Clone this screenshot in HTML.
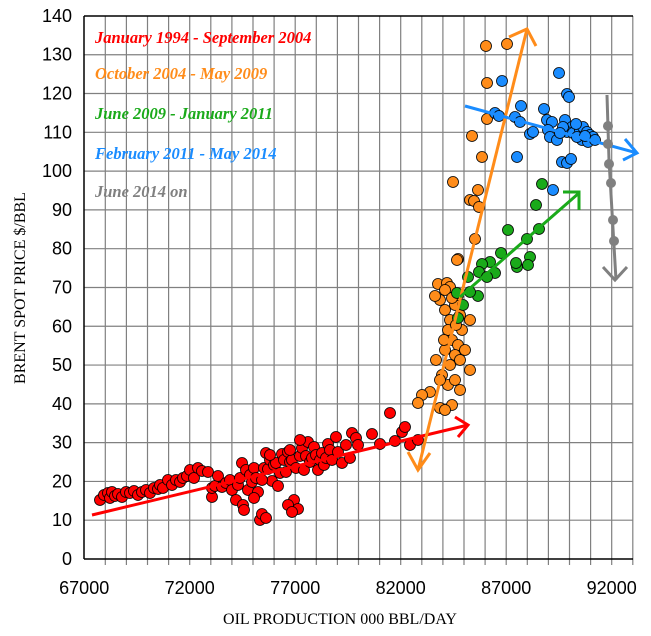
<!DOCTYPE html>
<html><head><meta charset="utf-8"><style>
body{margin:0;background:#fff;width:651px;height:636px;overflow:hidden}
svg{display:block}
.yl{font-family:"Liberation Sans",sans-serif;font-size:18px;fill:#000;text-anchor:end}
.xl{font-family:"Liberation Sans",sans-serif;font-size:18px;fill:#000;text-anchor:middle}
.lg{font-family:"Liberation Serif",serif;font-size:16.5px;font-style:italic;font-weight:bold}
</style></head><body>
<svg id="s" width="651" height="636" xmlns="http://www.w3.org/2000/svg">
<g id="grid" stroke="#808080" stroke-width="1.2"></g>
<line x1="84" y1="16" x2="633" y2="16" stroke="#000" stroke-width="1.5"/>
<line x1="84" y1="559" x2="633" y2="559" stroke="#000" stroke-width="1.5"/>
<line x1="84" y1="16" x2="84" y2="559" stroke="#000" stroke-width="1.5"/>
<g id="ylab"></g><g id="xlab"></g>
<text x="340" y="624" font-family="'Liberation Serif',serif" font-size="16" text-anchor="middle">OIL PRODUCTION 000 BBL/DAY</text>
<text transform="translate(25,288) rotate(-90)" font-family="'Liberation Serif',serif" font-size="16" text-anchor="middle">BRENT SPOT PRICE $/BBL</text>
<g id="pts" stroke="#000" stroke-width="0.8"></g>
<g fill="none" stroke-width="3">
<polyline points="92,515 468,425" stroke="#ff0000"/>
<polyline points="455,417 468,425 458,437" stroke="#ff0000"/>
<polyline points="418,470 527,29" stroke="#ff8c1a"/>
<polyline points="509,37 527,29 536,46" stroke="#ff8c1a"/>
<polyline points="408,452 418,470 430,453" stroke="#ff8c1a"/>
<polyline points="460,297 579,193" stroke="#1aaa1a"/>
<polyline points="563,192 579,192 579,210" stroke="#1aaa1a"/>
<polyline points="465,106 637,153" stroke="#1a8cff"/>
<polyline points="625,139 637,153 623,160" stroke="#1a8cff"/>
<polyline points="607,95 609,160 616,280" stroke="#808080"/>
<polyline points="603,267 615,280 627,267" stroke="#808080"/>
</g>
<g id="gpts"></g>
<text class="lg" x="95" y="43" fill="#ff0000">January 1994 - September 2004</text>
<text class="lg" x="95" y="79" fill="#ff8c1a">October 2004 - May 2009</text>
<text class="lg" x="95" y="119" fill="#1aaa1a">June 2009 - January 2011</text>
<text class="lg" x="95" y="159" fill="#1a8cff">February 2011 - May 2014</text>
<text class="lg" x="95" y="197" fill="#808080">June 2014 on</text>
</svg>
<script>
const NS="http://www.w3.org/2000/svg";
function el(p,t,a,txt){const e=document.createElementNS(NS,t);for(const k in a)e.setAttribute(k,a[k]);if(txt!==undefined)e.textContent=txt;document.getElementById(p).appendChild(e);}
for(let i=1;i<=26;i++){const x=84.2+i*21.1;el("grid","line",{x1:x,y1:16,x2:x,y2:565});}
for(let v=10;v<=130;v+=10){const y=559-v*3.879;el("grid","line",{x1:84,y1:y,x2:633,y2:y});}
for(let v=0;v<=140;v+=10){el("ylab","text",{class:"yl",x:72,y:559-v*3.879+6},String(v));}
["67000","72000","77000","82000","87000","92000"].forEach((t,i)=>el("xlab","text",{class:"xl",x:84.2+i*105.5,y:594},t));
const R=[[100,500],[104,495],[108,493],[110,498],[112,492],[115,496],[118,494],[122,497],[126,492],[130,493],[134,491],[138,495],[142,492],[146,490],[150,493],[154,488],[158,489],[160,485],[163,488],[168,480],[172,485],[176,480],[180,482],[183,478],[187,476],[190,470],[194,478],[198,468],[202,471],[208,472],[212,497],[212,488],[215,486],[218,476],[222,487],[226,483],[230,480],[232,490],[236,500],[238,485],[240,478],[242,463],[243,505],[244,510],[246,470],[248,490],[250,475],[252,482],[254,468],[256,478],[258,492],[260,520],[262,514],[264,468],[266,453],[268,469],[270,460],[272,481],[274,465],[276,463],[278,486],[280,473],[282,454],[284,460],[286,472],[288,452],[290,462],[292,460],[294,500],[296,468],[298,509],[300,456],[302,448],[304,470],[306,456],[308,442],[310,462],[312,458],[314,447],[316,455],[318,470],[320,460],[322,453],[324,465],[326,458],[328,444],[330,450],[332,460],[336,437],[338,452],[342,463],[346,445],[350,458],[352,433],[356,438],[358,445],[372,434],[380,444],[390,413],[395,441],[402,432],[405,427],[410,445],[418,440],[290,450],[300,440],[270,455],[262,480],[254,498],[266,518],[288,505],[292,512]];
const O=[[486,46],[507,44],[487,83],[487,119],[472,136],[482,157],[453,182],[478,190],[470,200],[474,201],[479,207],[475,239],[458,259],[457,260],[438,284],[447,283],[450,287],[440,300],[445,310],[450,320],[455,305],[460,315],[448,330],[452,340],[458,345],[462,330],[445,350],[455,355],[460,360],[450,365],[465,350],[470,370],[442,375],[448,385],[455,380],[460,390],[430,392],[422,395],[418,403],[440,408],[452,405],[445,410],[436,360],[440,380],[445,290],[458,295],[435,296],[470,320],[444,340],[452,298],[456,325]];
const G=[[542,184],[536,205],[508,230],[539,229],[527,239],[501,253],[530,257],[528,265],[517,267],[516,263],[490,262],[482,264],[479,272],[495,273],[487,277],[468,277],[457,293],[478,296],[463,305],[458,318],[470,292]];
const B=[[559,73],[567,94],[569,97],[502,81],[521,106],[544,109],[495,113],[499,116],[515,117],[520,122],[530,134],[533,132],[517,157],[547,120],[552,122],[548,130],[550,137],[557,140],[565,120],[572,127],[567,132],[573,133],[580,130],[583,127],[587,132],[590,135],[593,137],[582,140],[588,142],[595,140],[563,127],[560,133],[577,137],[562,162],[567,163],[571,159],[553,190],[576,124],[585,136]];
const C=[[608,126],[608,144],[609,164],[611,183],[613,220],[614,241]];
const add=(arr,c,r,p)=>arr.forEach(q=>el(p,"circle",{cx:q[0],cy:q[1],r:r,fill:c}));
add(R,"#ff0000",5.5,"pts");add(O,"#ff8c1a",5.5,"pts");add(G,"#1aaa1a",5.5,"pts");add(B,"#1a8cff",5.5,"pts");
C.forEach(q=>el("gpts","circle",{cx:q[0],cy:q[1],r:5,fill:"#808080"}));
</script>
</body></html>
